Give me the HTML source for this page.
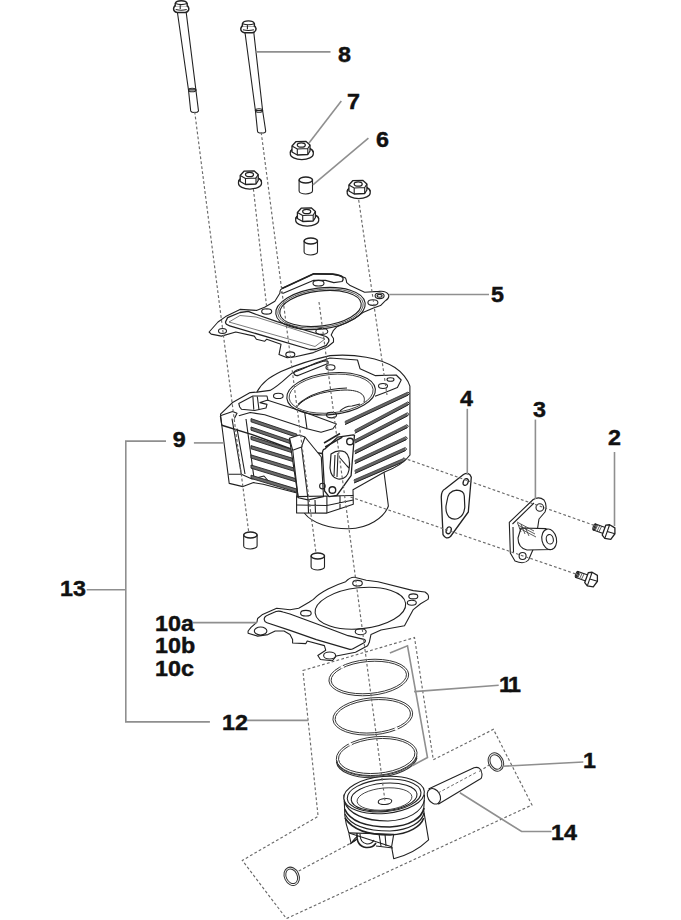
<!DOCTYPE html>
<html><head><meta charset="utf-8">
<style>
html,body{margin:0;padding:0;background:#fff;width:681px;height:920px;overflow:hidden}
svg{display:block}
.t{font-family:"Liberation Sans",sans-serif;font-weight:bold;font-size:22px;fill:#111;stroke:#111;stroke-width:.45}
.ld{stroke:#8f8f8f;stroke-width:1.6;fill:none}
.ds{stroke:#6a6a6a;stroke-width:1.15;fill:none;stroke-dasharray:2.8 2.2}
.p{stroke:#222;stroke-width:1.1;fill:#fff;stroke-linejoin:round}
.pn{stroke:#222;stroke-width:1.1;fill:none;stroke-linejoin:round}
.th{stroke:#333;stroke-width:.7;fill:none}
</style></head><body>
<svg width="681" height="920" viewBox="0 0 681 920">
<defs>
<g id="nut">
  <path class="p" d="M-11.5 1.5 A11.5 5.5 0 0 0 11.5 1.5 L11.5 0 A11.5 5.5 0 0 0 -11.5 0Z" style="stroke-width:1.25"/>
  <path class="pn" d="M-11.5 0 A11.5 5.5 0 0 1 11.5 0"/>
  <path class="p" d="M-9.8 -6.5 L-6 -10.8 L4 -11.2 L8.2 -7.5 L8.2 -1.5 L6 2 L-4.5 2.5 L-9.8 -0.5Z" style="stroke-width:1.3"/>
  <path class="pn" d="M-9.8 -6.5 L-4.5 -3.5 L6 -4 L8.2 -7.5 M-4.5 -3.5V2.5 M6 -4V2"/>
  <ellipse class="pn" cx="-0.5" cy="-7.5" rx="4" ry="2.2" style="stroke-width:1.3"/>
</g>
<g id="bhead">
  <path class="p" d="M-7.6 -4 Q-7.8 -0.8 -4 0 L4 0 Q7.8 -0.8 7.6 -4 Q7.2 -6.8 5 -7 L-5 -7 Q-7.2 -6.8 -7.6 -4Z" style="stroke-width:1.5"/>
  <path class="p" d="M-6 -6.5 L-6 -9 Q-5 -11.8 0 -11.8 Q5 -11.8 6 -9 L6 -6.5" style="stroke-width:1.4"/>
  <path class="pn" d="M-6 -9 Q0 -6.8 6 -9 M-1 -7.8 V-3.5 M-5.5 -3 Q0 -1.5 5.5 -3"/>
</g>
<g id="dowel">
  <path class="p" d="M-6.7 0 V11 A6.7 3 0 0 0 6.7 11 V0Z"/>
  <ellipse class="p" cx="0" cy="0" rx="6.7" ry="3" style="stroke-width:1.5"/>
</g>
</defs>
<!-- long bolts -->
<g>
  <path class="p" d="M177.3 11.5 L188.5 90 L195.9 90 L186.1 11.5Z"/>
  <path class="p" d="M188.5 90 L190.7 111 A4 2 0 0 0 198.5 111 L195.9 90Z"/>
  <ellipse class="pn" cx="192.2" cy="90" rx="3.7" ry="1.8"/>
  <use href="#bhead" x="181.2" y="12.5"/>
  <path class="p" d="M245 32.5 L255.4 110.5 L262.6 110.5 L253.8 32.5Z"/>
  <path class="p" d="M255.4 110.5 L257.5 131 A4 2 0 0 0 265.7 131 L262.6 110.5Z"/>
  <ellipse class="pn" cx="259" cy="110.5" rx="3.6" ry="1.8"/>
  <use href="#bhead" x="248.4" y="32.7"/>
</g>
<!-- nuts / dowels -->
<use href="#nut" x="301.8" y="152.5"/>
<use href="#nut" x="250" y="182"/>
<use href="#nut" x="358.7" y="191.5"/>
<use href="#nut" x="307.2" y="219"/>
<use href="#dowel" x="305.8" y="180"/>
<use href="#dowel" x="310.8" y="241"/>
<use href="#dowel" x="250.4" y="535"/>
<use href="#dowel" x="317.8" y="556"/>
<!-- head gasket 5 -->
<g>
<path class="p" d="M209.1 332 L218 322 L225.6 316.6 L240 309.4 L256.4 310.4 L264.6 307.3 L274.9 301.2 L280 293 Q279.5 290 282 288.5 L313.8 273.8 L332.6 274.1 Q340 275 345.5 277.9 Q346.5 280 346.7 282.6 L350.2 285.6 L364.6 292.3 L378.7 291.4 Q386 290.5 388.4 294.5 Q390 298 385.2 300.9 L380.5 305.6 L373.5 307.9 L362.9 312.6 L354.7 318.5 L345.3 323.2 L337 326.7 L333.5 330.3 L331.2 335 L333.5 338.5 L333.5 342 L327.6 346.7 L313.5 352.6 L295.5 356.7 L287.2 357.7 L279 354.6 L281 344.3 L266.7 339.2 L264.6 341.3 L256.4 339.2 L254.3 336.1 L235.8 332 L221.4 336.1 L211.2 334.1Z"/>
<path class="pn" d="M225.6 321.7 L227.6 317.6 L240 312.5 L248.2 311.4 L256.4 314.5 L277 321.7 L326 336.5 Q330 338.5 328.5 342 L326.3 345.4 L316 349.5 L309.9 349.5 L229.7 325.8 Q225 324.5 225.6 321.7Z" style="stroke-width:1.3"/>
<path class="pn" d="M229 322 L240 315.5 L256 317 L325 339 L315 346.5 Z" style="stroke-width:.6"/>
<ellipse class="pn" cx="320.5" cy="308.5" rx="45" ry="20.5" transform="rotate(-7 320.5 308.5)"/>
<ellipse class="pn" cx="320.5" cy="308.5" rx="43" ry="19" transform="rotate(-7 320.5 308.5)" style="stroke-width:.7"/>
<ellipse class="pn" cx="320.5" cy="308.5" rx="41" ry="17.5" transform="rotate(-7 320.5 308.5)"/>
<path class="pn" d="M282 288.5 L313.8 273.8 L332.6 274.1 Q340 275 342.5 277" style="stroke-width:1.7"/><path class="pn" d="M281 292.5 L283.2 293.2 L313.8 280.3 L325.5 280.3 L333.8 282.6 L342 281.5 Q344 279.5 342.5 277" style="stroke-width:1.2"/>
<ellipse class="pn" cx="318.5" cy="283.2" rx="5.5" ry="2.8"/>
<ellipse class="pn" cx="321.8" cy="331.4" rx="6" ry="3"/>
<ellipse class="pn" cx="372.9" cy="302.6" rx="5" ry="2.8"/>
<ellipse class="pn" cx="379.6" cy="295.8" rx="4.5" ry="2.8"/>
<ellipse class="pn" cx="379.6" cy="295.8" rx="2.5" ry="1.4"/>
<ellipse class="pn" cx="222.5" cy="331" rx="4" ry="2.5"/>
<ellipse class="pn" cx="266.7" cy="311.4" rx="5" ry="2.7"/>
<ellipse class="pn" cx="290.3" cy="354.6" rx="4.5" ry="2.7"/>
</g>
<!-- base gasket 10 -->
<g>
<path class="p" d="M248.1 631 L251 627.3 L256.9 622.2 L257.6 618.5 L262 614.8 L276.7 608.2 L290 609.7 L298.7 608.2 L309 602.3 L313.4 599.4 C320 592, 335 585, 345.7 581.7 Q350 577 354.5 577.3 L366.3 580.3 L378 581.7 L413.3 590.6 L425 592 Q430 595 428 599.4 L420.6 603.8 L413.3 609.6 L404.5 625.8 L381 630 L371 634.4 L369.3 642.3 L367.6 645.8 L355.5 652.2 L336.3 656 L332.3 660.8 L320.4 659.5 L317.8 655.5 L325.7 650.2 L324.4 645.6 L307.2 641 L305.9 643.6 L292.6 643 L292.6 639.6 L290 634.4 L284 631 L275.2 631 L267.9 634.6 L257.6 636.1 L248.1 633.2Z"/>
<path class="pn" d="M264.2 619.5 Q264 616.5 268 615 L276 611.5 Q279 610.5 283 612 L290 614 L316.4 623.8 L348.1 635.7 L364 639.3 Q366.5 640.5 364.5 642.5 L353 648.8 Q351.5 649.6 349.8 649.4 L316.4 639.6 L290 630.4 L267 622.8 Q264.5 622 264.2 619.5Z" style="stroke-width:1.2"/>
<ellipse class="pn" cx="360.4" cy="608.2" rx="45.5" ry="20.5" transform="rotate(-6 360.4 608.2)"/>
<ellipse class="pn" cx="357.5" cy="583.2" rx="4.8" ry="2.8"/>
<ellipse class="pn" cx="305.9" cy="613.2" rx="5.3" ry="2.8"/>
<ellipse class="pn" cx="360.7" cy="631.7" rx="5.5" ry="3"/>
<ellipse class="pn" cx="413.3" cy="596.4" rx="4.5" ry="2.5"/>
<ellipse class="pn" cx="411.8" cy="602.8" rx="4.5" ry="2.5"/>
<ellipse class="pn" cx="260.6" cy="631" rx="6.3" ry="4"/>
<ellipse class="pn" cx="329.6" cy="655.5" rx="6" ry="3.5"/>
</g>
<!-- cylinder block 9 -->
<g>
<!-- liner bottom -->
<path class="p" d="M304 495 L304.7 513.5 C312 523, 330 529, 348.8 528.8 C368 528.5, 384 518, 388.4 506 L384 472.3Z"/>
<!-- body silhouette -->
<path class="p" d="M220.5 414.1 L232.6 402.5 L250.2 392.6 L256.9 392.1 C262 382, 270 377, 281 371.5 C300 363, 315 359, 330 355.6 C355 353.5, 380 358, 394.9 367.5 C402 372, 408 380, 409.9 386.2 L410 455 C405 462, 395 468, 384 472.3 L353 489.7 L353.3 504.3 L326.9 513.1 L296.6 513 L296.6 496.6 L297 493 L263.2 484.2 L253.5 482.6 L243 486.6 L229.2 483.4 L221.8 425.3Z"/>
<!-- deck outline -->
<path class="pn" d="M256.9 392.1 L270 390.4 C275 388, 280 384, 288.8 375.9 L292.3 372.9 L302.9 368.8 L315.8 363 L330 358 L357.5 360 L360 368.7 L375 375.6 L396.2 375 L401.2 380 L397.4 387.5 L385 392.4 L375 396.2"/>
<path class="pn" d="M294.7 374.7 Q292 372 297 370 L324 361 Q329 360 328 363.5 L298 375.5 Q296 376 294.7 374.7Z" style="stroke-width:1.3"/>
<ellipse class="pn" cx="278.3" cy="395.9" rx="4.8" ry="2.6"/>
<ellipse class="pn" cx="330.5" cy="367.4" rx="4.5" ry="2.6"/>
<ellipse class="pn" cx="331.5" cy="415.1" rx="5" ry="2.8"/>
<ellipse class="pn" cx="383" cy="386" rx="4.5" ry="2.5"/>
<ellipse class="pn" cx="390.5" cy="379.5" rx="3.5" ry="1.8"/>
<!-- bore -->
<ellipse class="pn" cx="331.1" cy="393.7" rx="44.5" ry="20.8" transform="rotate(-6 331.1 393.7)"/>
<ellipse class="pn" cx="331.1" cy="393.7" rx="42.2" ry="19.2" transform="rotate(-6 331.1 393.7)" style="stroke-width:.8"/>
<path class="pn" d="M296 408 C303 398, 320 391, 345 390 C360 390, 366 395, 364 402" style="stroke-width:1"/>
<path class="pn" d="M298 404.5 C308 395, 325 389, 347 388"/>
<path class="pn" d="M340 411 Q345 406 352 406 L360 404"/>
<!-- upper front edge -->
<path class="pn" d="M239.7 407 L238.8 403.5 L252.9 396 L267 396 L267.9 400 L260 402.6 L267 404.4 L266 408 L254.6 410.5 L241.4 409.2 Z"/>
<path class="pn" d="M252.9 396.5 L253.8 409.7 M257.3 396.5 L259 409.7"/>
<path class="pn" d="M220.3 415.8 L232.6 411.4 L237 413.2 L234.4 418.5 M238.8 415.8 L250.2 412.5 L264.7 414.7 L307 428.8"/>
<path class="pn" d="M267 400 L296.4 409.4 L304.7 412.3 M304.7 412.3 L307 428.8 L321.1 432.3 L332.9 428.8 L336.4 424 L304.7 412.3"/>
<!-- left column -->
<path class="pn" d="M220.3 415.8 L221.8 425.3 M232 418.6 L241.3 474.3 M237 428.7 L245 474"/>
<path class="pn" d="M228.6 474.3 L241.3 474.3 L252 479 L264 476 L270 483"/><path class="pn" d="M246 419 L254 478"/>
<path class="pn" d="M221.8 425.3 L252.2 434.6 L291 449 L339 456" style="stroke-width:1.5"/>
<!-- ribbed bars -->
<g style="stroke:#222;stroke-width:.9;fill:#6a6a6a">
<path d="M251 418.6 L297 434.2 L297 437.4 L251 421.8 Z"/><path d="M251 427.0 L297 442.7 L297 445.9 L251 430.2 Z"/><path d="M251 436.3 L297 451.1 L297 454.3 L251 439.5 Z"/><path d="M251 445.6 L297 459.6 L297 462.8 L251 448.8 Z"/><path d="M251 454.9 L297 468.9 L297 472.1 L251 458.1 Z"/><path d="M251 465.0 L297 479.0 L297 482.2 L251 468.2 Z"/><path d="M251 475.2 L297 489.1 L297 492.3 L251 478.4 Z"/>
</g>
<!-- right column -->
<path class="p" d="M289.4 438.2 L299.3 434.9 L305 437 L321.3 457 L323.5 496.6 L308.1 499.9 L298.2 497.7Z"/>
<path class="pn" d="M292.7 450.3 L298.2 497.7 M301.5 447 L308.1 499.9 M289.4 438.2 L292.7 450.3 L301.5 447 L305 437"/>
<path class="pn" d="M296.6 496.6 L326.9 496 L353.3 495.5 M296.6 505 L326.9 505.5 L353.3 500 M308.1 499.9 L308.5 513 M315 500 L315.5 513 M326.9 496 L326.9 513.1 M340 496 L340 509"/>
<!-- fins -->
<g style="fill:none">
<path d="M345.0 423.1 L408.0 393.7" style="stroke:#666;stroke-width:3"/><path d="M345.0 424.6 L408.0 395.2" style="stroke:#222;stroke-width:1"/><path d="M345.0 421.4 L408.0 392.0" style="stroke:#333;stroke-width:.8"/><path d="M408.0 392.0 Q410.5 393.7 408.0 395.2" style="stroke:#222;stroke-width:1"/>
<path d="M354.8 431.8 L408.0 403.5" style="stroke:#666;stroke-width:3"/><path d="M354.8 433.3 L408.0 405.0" style="stroke:#222;stroke-width:1"/><path d="M354.8 430.1 L408.0 401.8" style="stroke:#333;stroke-width:.8"/><path d="M408.0 401.8 Q410.5 403.5 408.0 405.0" style="stroke:#222;stroke-width:1"/>
<path d="M355.0 441.5 L407.5 414.4" style="stroke:#666;stroke-width:3"/><path d="M355.0 443.0 L407.5 415.9" style="stroke:#222;stroke-width:1"/><path d="M355.0 439.8 L407.5 412.7" style="stroke:#333;stroke-width:.8"/><path d="M407.5 412.7 Q410.0 414.4 407.5 415.9" style="stroke:#222;stroke-width:1"/>
<path d="M354.8 452.4 L407.0 426.3" style="stroke:#666;stroke-width:3"/><path d="M354.8 453.9 L407.0 427.8" style="stroke:#222;stroke-width:1"/><path d="M354.8 450.7 L407.0 424.6" style="stroke:#333;stroke-width:.8"/><path d="M407.0 424.6 Q409.5 426.3 407.0 427.8" style="stroke:#222;stroke-width:1"/>
<path d="M354.8 462.2 L406.0 438.3" style="stroke:#666;stroke-width:3"/><path d="M354.8 463.7 L406.0 439.8" style="stroke:#222;stroke-width:1"/><path d="M354.8 460.5 L406.0 436.6" style="stroke:#333;stroke-width:.8"/><path d="M406.0 436.6 Q408.5 438.3 406.0 439.8" style="stroke:#222;stroke-width:1"/>
<path d="M354.8 472.0 L405.3 449.2" style="stroke:#666;stroke-width:3"/><path d="M354.8 473.5 L405.3 450.7" style="stroke:#222;stroke-width:1"/><path d="M354.8 470.3 L405.3 447.5" style="stroke:#333;stroke-width:.8"/><path d="M405.3 447.5 Q407.8 449.2 405.3 450.7" style="stroke:#222;stroke-width:1"/>
<path d="M354.0 481.5 L404.0 460.0" style="stroke:#666;stroke-width:3"/><path d="M354.0 483.0 L404.0 461.5" style="stroke:#222;stroke-width:1"/><path d="M354.0 479.8 L404.0 458.3" style="stroke:#333;stroke-width:.8"/><path d="M404.0 458.3 Q406.5 460.0 404.0 461.5" style="stroke:#222;stroke-width:1"/>
</g>
<!-- intake plate -->
<path class="p" d="M322.4 452.5 Q323 449 324.6 449.2 L337.9 437.1 L353.3 434.9 Q355 435 354.4 436 L351.1 475.7 L336.8 495.5 L329 496.6 L324.6 491 Z" style="stroke-width:1.3"/>
<path class="pn" d="M331 454 Q338 449 345 452 Q351 456 349 470 Q347 480 338 479 Q331 478 330 468 Z" style="stroke-width:1.2"/>
<path class="pn" d="M335 455 L334 476 M338 453 L337 477 M340 458 L347 466 L349 468"/>
<circle class="pn" cx="350" cy="441.5" r="3.3" style="stroke-width:1.4"/>
<circle class="pn" cx="332.4" cy="490" r="3.3" style="stroke-width:1.4"/>
<circle class="pn" cx="322.4" cy="486.1" r="2.8"/>
<path class="pn" d="M325.2 447 L342.3 437.1 M324 443 L340 433.5" style="stroke-width:1.6"/>
</g>
<!-- gasket 4 -->
<g>
<path class="p" d="M441.3 498 Q441 491 445 489 L463.5 474.5 Q469 471.5 471.3 477.2 L468.3 512 L450.5 536.5 Q446 540 443 534.6 Z" style="stroke-width:1.3"/>
<path class="pn" d="M447 501 Q448 491 456.5 490.2 Q464 490.5 464.3 496 L464.8 507 Q464 516 458 518.5 Q453 520.5 449 517 Q445.5 513 446 506 Z" style="stroke-width:1.2"/>
<ellipse class="pn" cx="465.7" cy="482" rx="2.4" ry="3.5" transform="rotate(20 465.7 482)" style="stroke-width:1.3"/>
<ellipse class="pn" cx="448.7" cy="530.3" rx="2.4" ry="3.5" transform="rotate(20 448.7 530.3)" style="stroke-width:1.3"/>
</g>
<!-- tensioner 3 -->
<defs>
<g id="sbolt">
  <path class="p" d="M0 -3.2 L11 -3.2 L11 3.2 L0 3.2Z"/>
  <ellipse class="pn" cx="0" cy="0" rx="1.3" ry="3.2"/>
  <path class="th" d="M2.5 -3.2 L1.8 3.2 M4.5 -3.2 L3.8 3.2 M6.5 -3.2 L5.8 3.2"/>
  <path class="p" d="M10 -5.5 L13.5 -7.2 L19.5 -6 L21.5 -0.5 L19.5 6.2 L13.5 7.2 L10 5Z" style="stroke-width:1.3"/>
  <path class="pn" d="M13.5 -7.2 L13.5 7.2 M13.5 0 L21.5 -0.5"/>
</g>
</defs>
<g>
<path class="p" d="M509.3 522.4 L533.2 499.5 Q539 496 544 500 Q547.5 505 545 512 L539 519 L535 545 L528.5 560 Q524 565 515 561 L510.3 553Z"/>
<path class="pn" d="M512.5 524 L534 503 M513 527 L513.5 552"/>
<circle class="pn" cx="539.8" cy="507.5" r="3.8"/>
<circle class="pn" cx="522.6" cy="556" r="3.5"/>
<path class="p" d="M521 528 L546 528.6 L552 549.5 L527 550 Q518 548 518 538Z"/>
<ellipse class="p" cx="549.2" cy="539.3" rx="7.3" ry="10.4" transform="rotate(-12 549.2 539.3)"/>
<ellipse class="pn" cx="549.8" cy="539.3" rx="3.5" ry="4.8" transform="rotate(-12 549.8 539.3)"/>
<path class="pn" d="M517 522 L534 531 M518 525 L535 534 M519 528 L536 537 M517.5 523 L521 532 M521 524 L525 534 M525 527 L529 536" style="stroke-width:.8;stroke:#333"/>
</g>
<!-- small bolts 2 -->
<use href="#sbolt" transform="translate(594.5 527) rotate(19.6)"/>
<use href="#sbolt" transform="translate(577 574.5) rotate(19.6)"/>
<!-- dashed boxes -->
<g class="ds">
<path d="M302.9 670.5 L414.5 637.6 L433.3 759.8 L493.4 729.3 L532 805 L286.4 918.6 L242.3 860.4 L318.1 816.4 Z"/>
</g>
<!-- rings 11 -->
<g style="stroke:#333;stroke-width:.95;fill:none">
<ellipse cx="368.8" cy="677.5" rx="40" ry="18" transform="rotate(-5 368.8 677.5)"/>
<ellipse cx="368.8" cy="677.5" rx="37.8" ry="16" transform="rotate(-5 368.8 677.5)"/>
<ellipse cx="372.8" cy="716.3" rx="40" ry="18.5" transform="rotate(-5 372.8 716.3)"/>
<ellipse cx="372.8" cy="716.3" rx="37.8" ry="16.5" transform="rotate(-5 372.8 716.3)"/>
<ellipse cx="376.7" cy="756" rx="40.5" ry="19.3" transform="rotate(-5 376.7 756)"/>
<ellipse cx="376.7" cy="756" rx="38.3" ry="17.3" transform="rotate(-5 376.7 756)"/>
<path d="M336.5 758 A40.5 19.3 -5 0 0 417 754" transform="translate(0 2.2)"/>
<path d="M336.5 758 A40.5 19.3 -5 0 0 417 754" transform="translate(0 3.6)" style="stroke-width:1.2"/>
</g>
<g style="stroke:#fff;stroke-width:3.2;fill:none">
<path d="M341.0 667.6 L343.4 666.4"/>
<path d="M397.5 728.1 L394.9 729.2"/>
<path d="M349.1 744.9 L351.6 743.6"/>
</g>
<!-- piston -->
<g>
<path class="p" d="M344 795 L344.9 816 C346 826, 348 830, 349 833 L391.6 846.8 L393.7 858.7 C405 856, 418 850, 428.6 839.9 L423.7 810.6 L424.5 795Z"/>
<ellipse class="p" cx="384.1" cy="795" rx="40.4" ry="18.5" transform="rotate(-5 384.1 795)"/>
<ellipse class="pn" cx="384.1" cy="795.5" rx="37" ry="16.2" transform="rotate(-5 384.1 795.5)"/>
<ellipse class="pn" cx="384.1" cy="797" rx="33" ry="13.8" transform="rotate(-5 384.1 797)"/>
<ellipse class="pn" cx="384.5" cy="799" rx="27.5" ry="11" transform="rotate(-5 384.5 799)" style="stroke-width:.8"/>
<ellipse class="pn" cx="385" cy="801.5" rx="6.8" ry="3" transform="rotate(-5 385 801.5)"/>
<path class="pn" d="M344.2 801 C348 814, 365 821, 388 821 C408 820, 422 812, 424.5 800"/>
<path class="pn" d="M344.6 809 C350 821, 366 827, 390 827 C410 826, 422 818, 424 808" style="stroke-width:1.7"/>
<path class="pn" d="M344.9 814 C351 826, 367 831, 390 831 C410 830, 422 822, 424 813" style="stroke-width:1.2"/>
<path class="pn" d="M345 818 C352 829, 368 835, 390 835 C410 834, 421 826, 423.7 818" style="stroke-width:1.6"/>
<path class="pn" d="M348.4 832.9 L393.7 834.3 L391.6 846.8"/>
<path class="pn" d="M349 834 L351 843 L356 840"/>
<path class="pn" d="M357 833 Q356 846 366 847.5 Q373 848 376 843" style="stroke-width:1.5"/><path class="pn" d="M360 834 Q360 843 367 844 Q372 844 374 840"/><path class="pn" d="M352 842 Q355 838 358 836 M350 844 L357 839"/>
<path class="pn" d="M379 834 L381 846 M385 834 L386 846 M376 846 L393 848"/>
</g>
<!-- pin 14 -->
<g>
<path class="p" d="M429 788.7 L474 767.7 Q481 766 482 774 Q482 779 479.7 779.2 L438.6 804Z"/>
<ellipse class="p" cx="433.9" cy="796.3" rx="6.1" ry="8.2" transform="rotate(-30 433.9 796.3)"/>
<path d="M438 793 L477 772" style="stroke:#444;stroke-width:.8;stroke-dasharray:3 2;fill:none"/>
</g>
<!-- circlips -->
<g style="stroke:#333;fill:none;stroke-width:1">
<ellipse cx="495.9" cy="762" rx="7.3" ry="9.5" transform="rotate(-25 495.9 762)"/>
<ellipse cx="495.9" cy="762" rx="5.5" ry="7.6" transform="rotate(-25 495.9 762)"/>
<ellipse cx="291.7" cy="876.3" rx="7.3" ry="9.5" transform="rotate(-25 291.7 876.3)"/>
<ellipse cx="291.7" cy="876.3" rx="5.5" ry="7.6" transform="rotate(-25 291.7 876.3)"/>
</g>
<!-- dashed lines -->
<g class="ds">
<path d="M194.7 111.7L248.7 532"/>
<path d="M261.2 132.3L316 553"/>
<path d="M253.4 189L267 310"/>
<path d="M358.7 200L387 395"/>
<path d="M319 302L385 801"/>
<path d="M403 457.8L596 526"/>
<path d="M350.5 497L578 574.7"/>
<path d="M298.7 871L351.6 842.8"/>
<path d="M479.3 771.6L489.9 764.5"/>
</g>
<!-- labels -->
<g class="t">
<text transform="translate(338.0 62.0) scale(1.06 1)">8</text>
<text transform="translate(347.0 109.0) scale(1.06 1)">7</text>
<text transform="translate(376.0 147.0) scale(1.06 1)">6</text>
<text transform="translate(491.0 301.5) scale(1.06 1)">5</text>
<text transform="translate(460.0 406.0) scale(1.06 1)">4</text>
<text transform="translate(533.0 417.0) scale(1.06 1)">3</text>
<text transform="translate(608.0 445.0) scale(1.06 1)">2</text>
<text transform="translate(172.8 447.0) scale(1.06 1)">9</text>
<text transform="translate(60.0 596.0) scale(1.06 1)">13</text>
<text transform="translate(155.0 631.0) scale(1.06 1)">10a</text>
<text transform="translate(155.0 653.0) scale(1.06 1)">10b</text>
<text transform="translate(155.0 676.0) scale(1.06 1)">10c</text>
<text transform="translate(499.0 692.0) scale(1.06 1)" style="letter-spacing:-2.5px">11</text>
<text transform="translate(222.0 730.0) scale(1.06 1)">12</text>
<text transform="translate(583.0 768.0) scale(1.06 1)">1</text>
<text transform="translate(551.0 840.0) scale(1.06 1)">14</text>
</g>
<!-- leaders -->
<g class="ld">
<path d="M255.4 51.9H330.5"/>
<path d="M341.3 101L308.8 143.3"/>
<path d="M368.4 138.2L312.9 184.9"/>
<path d="M389.3 294.5H489"/>
<path d="M467.3 408.8V475"/>
<path d="M535.4 419.6V499"/>
<path d="M614.5 452V526"/>
<path d="M166 441.1H125.8V721.9H209.9"/>
<path d="M193.9 442.9H223.3"/>
<path d="M86.7 589.7H125.8"/>
<path d="M192.8 622.6H256.8"/>
<path d="M247 720.4H308.2"/>
<path d="M414.1 691.6L498.7 685.2"/>
<path d="M389.9 652.9L407.5 645.8L427.5 757.5L412.2 765.7"/>
<path d="M502.2 766.3L583.3 762"/>
<path d="M459.9 792.7L521.6 831.5H551.5"/>
</g>
</svg>
</body></html>
